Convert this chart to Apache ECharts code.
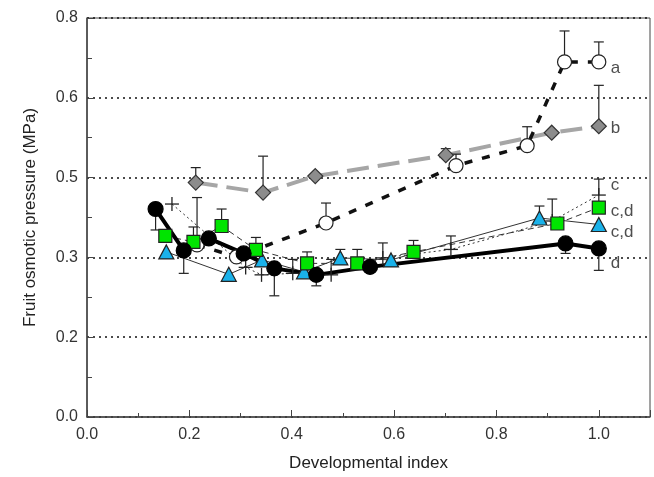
<!DOCTYPE html>
<html><head><meta charset="utf-8">
<script src="https://cdn.jsdelivr.net/npm/echarts@6/dist/echarts.min.js"></script>
<style>html,body{margin:0;padding:0;background:#fff}#c{width:654px;height:477px}</style>
</head><body><div id="c"></div>
<script>
// Series a: open circles
var aX = [0.215, 0.292, 0.467, 0.721, 0.860, 0.933, 1.0];
var aY = [0.345, 0.321, 0.389, 0.504, 0.544, 0.712, 0.712];
var aErr = [0.440, null, 0.429, 0.527, 0.582, 0.774, 0.752];
// Series b: grey diamonds
var bX = [0.2125, 0.344, 0.446, 0.701, 0.908, 1.0];
var bY = [0.470, 0.450, 0.483, 0.525, 0.570, 0.583];
var bErr = [0.500, 0.523, null, 0.538, null, 0.665];
// Series c: plus signs
var cX = [0.166, 0.310, 0.341, 0.402, 0.477, 0.578, 0.711, 0.909, 1.0];
var cY = [0.427, 0.300, 0.285, 0.288, 0.285, 0.319, 0.336, 0.393, 0.445];
var cErr = [null, null, null, 0.316, 0.316, 0.349, 0.363, 0.437, 0.477];
// Series green squares
var gX = [0.153, 0.208, 0.263, 0.330, 0.430, 0.528, 0.638, 0.919, 1.0];
var gY = [0.363, 0.351, 0.383, 0.335, 0.308, 0.308, 0.331, 0.388, 0.420];
var gErr = [null, 0.381, 0.417, 0.360, 0.331, 0.336, 0.354, null, null];
// Series cyan triangles
var tX = [0.155, 0.277, 0.342, 0.424, 0.495, 0.594, 0.884, 1.0];
var tY = [0.331, 0.286, 0.315, 0.291, 0.319, 0.315, 0.399, 0.386];
var tErr = [null, null, null, null, 0.336, null, 0.423, null];
// Series d: black circles
var dX = [0.134, 0.189, 0.238, 0.306, 0.366, 0.448, 0.553, 0.935, 1.0];
var dY = [0.417, 0.334, 0.358, 0.328, 0.298, 0.285, 0.301, 0.348, 0.338];
var dErr = [0.375, 0.288, null, null, 0.243, 0.263, null, 0.328, 0.294];
// Significance letters at right
var letterText = ['a', 'b', 'c', 'c,d', 'c,d', 'd'];
var letterY = [0.699, 0.579, 0.465, 0.412, 0.371, 0.309];

function pts(xs, ys) { return xs.map(function (x, i) { return [x, ys[i]]; }); }
function errs(xs, ys, es) {
  var out = [];
  xs.forEach(function (x, i) { if (es[i] != null) out.push([x, ys[i], es[i]]); });
  return out;
}
var font = 'Liberation Sans, Arial, sans-serif';

function errSeries(data) {
  return {
    type: 'custom', z: 3, data: data, silent: true,
    renderItem: function (params, api) {
      var p1 = api.coord([api.value(0), api.value(1)]);
      var p2 = api.coord([api.value(0), api.value(2)]);
      var st = { stroke: '#222', lineWidth: 1.2 };
      return { type: 'group', children: [
        { type: 'line', shape: { x1: p1[0], y1: p1[1], x2: p2[0], y2: p2[1] }, style: st },
        { type: 'line', shape: { x1: p2[0] - 5, y1: p2[1], x2: p2[0] + 5, y2: p2[1] }, style: st }
      ] };
    }
  };
}
function lineSeries(xs, ys, color, width, type) {
  return { type: 'line', z: 2, data: pts(xs, ys), showSymbol: false, symbol: 'none', silent: true,
    lineStyle: { color: color, width: width, type: type } };
}
function markSeries(xs, ys, symbol, size, fill, border) {
  return { type: 'scatter', z: 5, data: pts(xs, ys), symbol: symbol, symbolSize: size, silent: true,
    itemStyle: { color: fill, borderColor: border, borderWidth: 1.2, opacity: 1 } };
}

var chart = echarts.init(document.getElementById('c'), null, { renderer: 'canvas' });
chart.setOption({
  animation: false,
  backgroundColor: '#fff',
  grid: { left: 87, right: 4, top: 18, bottom: 60, show: true, borderColor: '#444', borderWidth: 1 },
  xAxis: {
    type: 'value', min: 0, max: 1.1, interval: 0.2,
    name: 'Developmental index', nameLocation: 'middle', nameGap: 38,
    nameTextStyle: { fontFamily: font, fontSize: 17, color: '#222' },
    axisLine: { show: true, lineStyle: { color: '#444', width: 1.5 } },
    axisTick: { show: true, inside: true, length: 7, lineStyle: { color: '#444' } },
    minorTick: { show: true, splitNumber: 2, length: 4, lineStyle: { color: '#444' } },
    axisLabel: { margin: 10, fontFamily: font, fontSize: 16, color: '#333', showMaxLabel: false,
      formatter: function (v) { return v > 1.05 ? '' : v.toFixed(1); } },
    splitLine: { show: false }
  },
  yAxis: {
    type: 'value', min: 0, max: 0.8, interval: 0.16,
    name: 'Fruit osmotic pressure (MPa)', nameLocation: 'middle', nameGap: 48,
    nameTextStyle: { fontFamily: font, fontSize: 17, color: '#222' },
    axisLine: { show: true, lineStyle: { color: '#444', width: 1.5 } },
    axisTick: { show: true, inside: true, length: 6, lineStyle: { color: '#444' } },
    minorTick: { show: true, splitNumber: 2, length: 5, lineStyle: { color: '#444' } },
    axisLabel: { margin: 9, fontFamily: font, fontSize: 16, color: '#333',
      formatter: function (v) { return v.toFixed(1); } },
    splitLine: { show: true, lineStyle: { color: '#111', width: 1.6, type: [2, 4] } }
  },
  series: [
    lineSeries(bX, bY, '#a6a6a6', 4, [22, 9]),
    lineSeries(aX, aY, '#111', 3.5, [8, 10]),
    lineSeries(cX, cY, '#333', 1, [2, 3]),
    lineSeries(gX, gY, '#333', 1, [6, 4]),
    lineSeries(tX, tY, '#333', 1, 'solid'),
    lineSeries(dX, dY, '#000', 4, 'solid'),
    errSeries(errs(aX, aY, aErr)),
    errSeries(errs(bX, bY, bErr)),
    errSeries(errs(cX, cY, cErr)),
    errSeries(errs(gX, gY, gErr)),
    errSeries(errs(tX, tY, tErr)),
    errSeries(errs(dX, dY, dErr)),
    markSeries(bX, bY, 'diamond', [15, 15], '#8c8c8c', '#333'),
    markSeries(aX, aY, 'circle', 14, '#fff', '#222'),
    {
      type: 'custom', z: 5, data: pts(cX, cY), silent: true,
      renderItem: function (params, api) {
        var p = api.coord([api.value(0), api.value(1)]);
        var st = { stroke: '#222', lineWidth: 1.3 };
        return { type: 'group', children: [
          { type: 'line', shape: { x1: p[0] - 7, y1: p[1], x2: p[0] + 7, y2: p[1] }, style: st },
          { type: 'line', shape: { x1: p[0], y1: p[1] - 7, x2: p[0], y2: p[1] + 7 }, style: st }
        ] };
      }
    },
    markSeries(tX, tY, 'triangle', [15, 14], '#1ab2ea', '#222'),
    markSeries(gX, gY, 'rect', 13, '#00e400', '#222'),
    markSeries(dX, dY, 'circle', 15, '#000', '#000'),
    {
      type: 'scatter', z: 6, silent: true, symbolSize: 0,
      data: letterY.map(function (y, i) { return { value: [1.0, y], name: letterText[i] }; }),
      label: { show: true, position: 'right', distance: 12, formatter: '{b}',
        fontFamily: font, fontSize: 17, color: '#222' }
    }
  ]
});
</script></body></html>
